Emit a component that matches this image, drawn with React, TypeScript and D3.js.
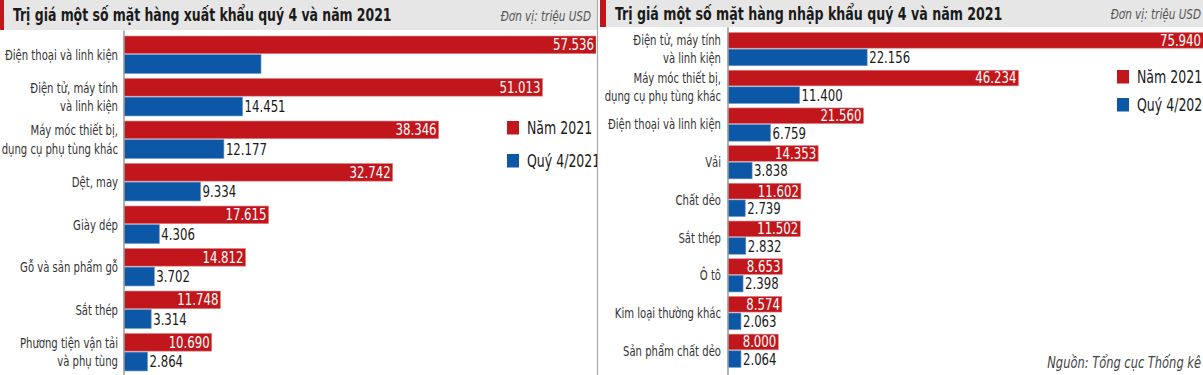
import React from "react";
import * as d3 from "d3";

const exportCategories = [
  "Điện thoại và linh kiện",
  "Điện tử, máy tính\nvà linh kiện",
  "Máy móc thiết bị,\ndụng cụ phụ tùng khác",
  "Dệt, may",
  "Giày dép",
  "Gỗ và sản phẩm gỗ",
  "Sắt thép",
  "Phương tiện vận tải\nvà phụ tùng",
];
const exportYear = [57536, 51013, 38346, 32742, 17615, 14812, 11748, 10690];
const exportQ4 = [16700, 14451, 12177, 9334, 4306, 3702, 3314, 2864];
const exportQ4Unlabeled = ["Điện thoại và linh kiện"];

const importCategories = [
  "Điện tử, máy tính\nvà linh kiện",
  "Máy móc thiết bị,\ndụng cụ phụ tùng khác",
  "Điện thoại và linh kiện",
  "Vải",
  "Chất dẻo",
  "Sắt thép",
  "Ô tô",
  "Kim loại thường khác",
  "Sản phẩm chất dẻo",
];
const importYear = [75940, 46234, 21560, 14353, 11602, 11502, 8653, 8574, 8000];
const importQ4 = [22156, 11400, 6759, 3838, 2739, 2832, 2398, 2063, 2064];

const seriesNames = ["Năm 2021", "Quý 4/2021"];
const titles = [
  "Trị giá một số mặt hàng xuất khẩu quý 4 và năm 2021",
  "Trị giá một số mặt hàng nhập khẩu quý 4 và năm 2021",
];
const unitText = "Đơn vị: triệu USD";
const sourceText = "Nguồn: Tổng cục Thống kê";

const RED = "#c1161c";
const BLUE = "#0c58a6";
const GRAY_BG = "#e6e6e6";
const FONT = "'DejaVu Sans Condensed', 'DejaVu Sans', sans-serif";

const fmt = d3
  .formatLocale({ decimal: ",", thousands: ".", grouping: [3], currency: ["", ""] })
  .format(",d");

// Condensed text helper: horizontal squeeze around its anchor point
function T(props: any) {
  const { x, y, sx = 1, children, ...rest } = props;
  return (
    <text transform={`translate(${x},${y}) scale(${sx},1)`} fontFamily={FONT} {...rest}>
      {children}
    </text>
  );
}

type PanelProps = {
  categories: string[];
  year: number[];
  q4: number[];
  unlabeled: string[];
  x0: number;
  x1: number;
  y0: number;
  y1: number;
  labelX: number;
  clipX0: number;
  clipX1: number;
  id: string;
};

function Panel(p: PanelProps) {
  const max = d3.max(p.year) as number;
  const x = d3.scaleLinear().domain([0, max]).range([p.x0, p.x1]);
  const y = d3
    .scaleBand<string>()
    .domain(p.categories)
    .range([p.y0, p.y1])
    .paddingInner(0.12)
    .paddingOuter(0.06);
  const bw = y.bandwidth();
  const redH = bw * 0.47;
  const gap = 1;
  const blueH = bw - redH - gap;
  return (
    <g>
      <defs>
        <clipPath id={p.id}>
          <rect x={p.clipX0} y={0} width={p.clipX1 - p.clipX0} height={375} />
        </clipPath>
      </defs>
      <g clipPath={`url(#${p.id})`}>
        {p.categories.map((c, i) => {
          const top = y(c) as number;
          const xr = x(p.year[i]);
          const xb = x(p.q4[i]);
          return (
            <g key={c}>
              <rect x={p.x0} y={top} width={xr - p.x0} height={redH} fill={RED} stroke="#e07a7e" strokeWidth={0.6} />
              <rect x={p.x0} y={top + redH + gap} width={xb - p.x0} height={blueH} fill={BLUE} stroke="#6f94c4" strokeWidth={0.6} />
              <T
                x={Math.min(xr, p.clipX1) - 2}
                y={top + redH / 2}
                sx={0.87}
                dy="0.36em"
                textAnchor="end"
                fill="#fff"
                fontSize={15}
              >
                {fmt(p.year[i])}
              </T>
              {p.unlabeled.includes(c) ? null : (
                <T
                  x={xb + 2}
                  y={top + redH + gap + blueH / 2}
                  sx={0.87}
                  dy="0.38em"
                  fill="#1a1a1a"
                  fontSize={15}
                >
                  {fmt(p.q4[i])}
                </T>
              )}
            </g>
          );
        })}
      </g>
      {p.categories.map((c) => {
        const lines = c.split("\n");
        const cy = (y(c) as number) + bw / 2;
        const lh = 18.5;
        return (
          <T key={"l" + c} x={p.labelX} y={cy} sx={0.8} textAnchor="end" fill="#333" fontSize={14}>
            {lines.map((ln, k) => (
              <tspan key={k} x={0} y={(k - (lines.length - 1) / 2) * lh} dy="0.35em">
                {ln}
              </tspan>
            ))}
          </T>
        );
      })}
      <line x1={p.x0} x2={p.x0} y1={p.y0 - 3} y2={375} stroke="#9a9a9a" strokeWidth={1.5} />
    </g>
  );
}

function Legend({ x, y, step, clip }: { x: number; y: number; step: number; clip: string }) {
  const colors = [RED, BLUE];
  return (
    <g clipPath={`url(#${clip})`}>
      {seriesNames.map((s, i) => (
        <g key={s}>
          <rect x={x} y={y + i * step} width={12} height={13.5} fill={colors[i]} />
          <T x={x + 20} y={y + i * step + 7} sx={0.82} dy="0.36em" fontSize={17} fill="#1a1a1a">
            {s}
          </T>
        </g>
      ))}
    </g>
  );
}

export default function App() {
  return (
    <div style={{ position: "absolute", left: 0, top: 0 }}>
      <svg width={1203} height={375} style={{ display: "block", background: "#fff" }}>
        <defs>
          <clipPath id="legclipL">
            <rect x={0} y={0} width={597} height={375} />
          </clipPath>
          <clipPath id="legclipR">
            <rect x={600} y={0} width={603} height={375} />
          </clipPath>
        </defs>
        {/* Left header */}
        <rect x={0} y={0} width={4} height={30} fill={RED} />
        <rect x={4} y={0} width={593} height={30} fill={GRAY_BG} />
        <T x={13} y={21} sx={0.77} fontSize={18} fontWeight="bold" fill="#1a1a1a">
          {titles[0]}
        </T>
        <T x={591} y={21} sx={0.83} fontSize={14} fontStyle="italic" fill="#555" textAnchor="end">
          {unitText}
        </T>
        {/* Right header */}
        <rect x={600} y={0} width={6} height={27} fill={RED} />
        <rect x={606} y={0} width={597} height={27} fill={GRAY_BG} />
        <T x={615} y={20} sx={0.78} fontSize={18} fontWeight="bold" fill="#1a1a1a">
          {titles[1]}
        </T>
        <T x={1201} y={19} sx={0.83} fontSize={14} fontStyle="italic" fill="#555" textAnchor="end">
          {unitText}
        </T>
        {/* divider */}
        <line x1={597.5} x2={597.5} y1={0} y2={375} stroke="#a8a8a8" strokeWidth={1.2} />

        <Panel
          id="clipL"
          categories={exportCategories}
          year={exportYear}
          q4={exportQ4}
          unlabeled={exportQ4Unlabeled}
          x0={124}
          x1={596}
          y0={33.5}
          y1={373.5}
          labelX={118}
          clipX0={0}
          clipX1={596}
        />
        <Panel
          id="clipR"
          categories={importCategories}
          year={importYear}
          q4={importQ4}
          unlabeled={[]}
          x0={728}
          x1={1205}
          y0={30.3}
          y1={369.6}
          labelX={721}
          clipX0={600}
          clipX1={1203}
        />
        <Legend x={507} y={121} step={33} clip="legclipL" />
        <Legend x={1117} y={70} step={28} clip="legclipR" />
        <T x={1201} y={368} sx={0.85} fontSize={15} fontStyle="italic" fill="#444" textAnchor="end">
          {sourceText}
        </T>
      </svg>
    </div>
  );
}
